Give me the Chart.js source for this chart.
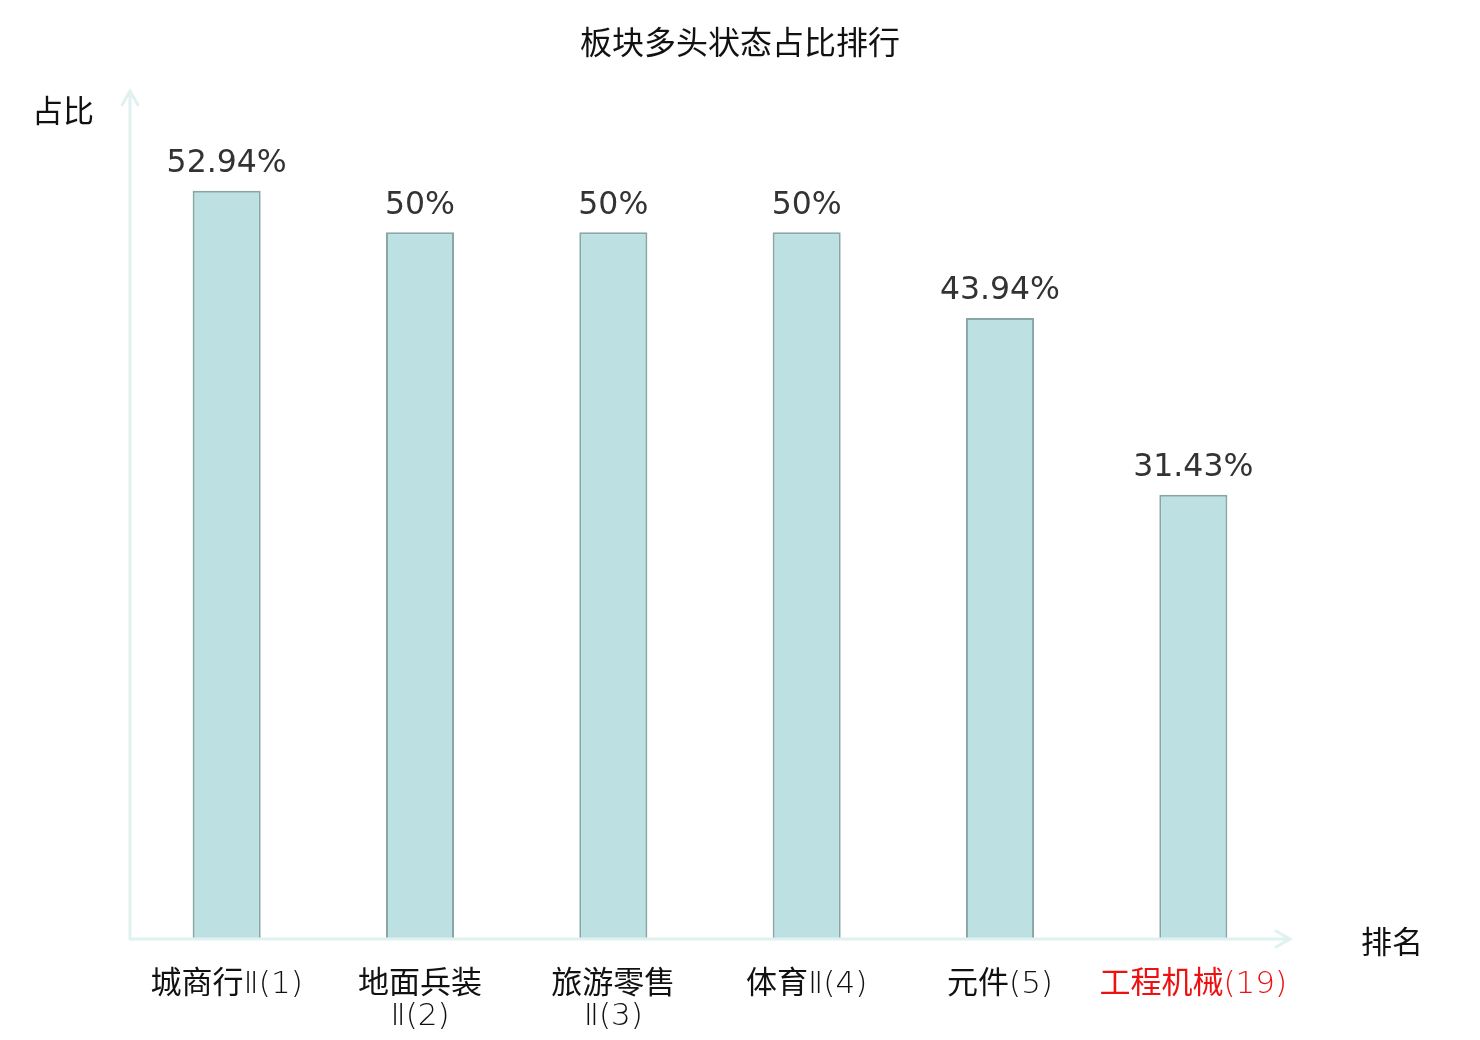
<!DOCTYPE html>
<html>
<head>
<meta charset="utf-8">
<script src="https://cdn.jsdelivr.net/npm/chart.js@4.4.0/dist/chart.umd.min.js"></script>
<style>
  html, body { margin: 0; padding: 0; background: #ffffff; }
  #wrap { width: 1480px; height: 1040px; }
</style>
</head>
<body>
<div id="wrap"><canvas id="chart" width="1480" height="1040"></canvas></div>
<script>
// data
const categories = [['城商行Ⅱ(1)'], ['地面兵装', 'Ⅱ(2)'], ['旅游零售', 'Ⅱ(3)'], ['体育Ⅱ(4)'], ['元件(5)'], ['工程机械(19)']];
const shares = [52.94, 50, 50, 50, 43.94, 31.43];
const shareLabels = ['52.94%', '50%', '50%', '50%', '43.94%', '31.43%'];
const highlightIndex = 5;
const titleText = '板块多头状态占比排行';
const yName = '占比';
const xName = '排名';

const cjkFont = '"Noto Sans CJK SC", "DejaVu Sans", sans-serif';
const latinFont = '200 31px "DejaVu Sans", sans-serif';
const axisColor = '#dff2ef';

// split a label into runs of CJK and non-CJK text so the digits
// can use a lighter font like the original
function splitRuns(text) {
    const runs = [];
    for (const ch of text) {
        const cjk = /[\u3400-\u9fff]/.test(ch);
        if (runs.length && runs[runs.length - 1].cjk === cjk) {
            runs[runs.length - 1].text += ch;
        } else {
            runs.push({ text: ch, cjk: cjk });
        }
    }
    return runs;
}

function drawMixed(ctx, text, cx, y) {
    const runs = splitRuns(text);
    let total = 0;
    runs.forEach(r => {
        ctx.font = r.cjk ? '31px ' + cjkFont : latinFont;
        r.w = ctx.measureText(r.text).width;
        total += r.w;
    });
    let x = cx - total / 2;
    ctx.textAlign = 'left';
    runs.forEach(r => {
        ctx.font = r.cjk ? '31px ' + cjkFont : latinFont;
        ctx.fillText(r.text, x, y);
        x += r.w;
    });
}

const decorPlugin = {
    id: 'decor',
    afterDatasetsDraw(chart) {
        const ctx = chart.ctx;
        const area = chart.chartArea;
        const xs = chart.scales.x;
        const meta = chart.getDatasetMeta(0);

        // axes with arrows
        ctx.save();
        ctx.strokeStyle = axisColor;
        ctx.lineWidth = 3;
        ctx.lineCap = 'round';
        ctx.beginPath();
        ctx.moveTo(area.left, area.bottom);
        ctx.lineTo(area.left, area.top);
        ctx.moveTo(area.left - 8, area.top + 14);
        ctx.lineTo(area.left, area.top);
        ctx.lineTo(area.left + 8, area.top + 14);
        ctx.moveTo(area.left, area.bottom);
        ctx.lineTo(area.right, area.bottom);
        ctx.moveTo(area.right - 14, area.bottom - 8);
        ctx.lineTo(area.right, area.bottom);
        ctx.lineTo(area.right - 14, area.bottom + 8);
        ctx.stroke();
        ctx.restore();

        // value labels on bars
        ctx.save();
        ctx.font = '31.5px "DejaVu Sans", sans-serif';
        ctx.fillStyle = '#333333';
        ctx.textAlign = 'center';
        ctx.textBaseline = 'bottom';
        meta.data.forEach((bar, i) => {
            ctx.fillText(shareLabels[i], bar.x, bar.y - 11);
        });
        ctx.restore();

        // category labels
        ctx.save();
        ctx.textBaseline = 'alphabetic';
        categories.forEach((lines, i) => {
            const x = xs.getPixelForValue(i);
            ctx.fillStyle = i === highlightIndex ? '#ee1111' : '#111111';
            lines.forEach((line, j) => {
                drawMixed(ctx, line, x, area.bottom + 54 + j * 32);
            });
        });
        ctx.restore();

        // title and axis names
        ctx.save();
        ctx.fillStyle = '#111111';
        ctx.textBaseline = 'middle';
        ctx.textAlign = 'center';
        ctx.font = '32px ' + cjkFont;
        ctx.fillText(titleText, chart.width / 2, 42);
        ctx.font = '31px ' + cjkFont;
        ctx.fillText(yName, 63, 110);
        ctx.fillText(xName, 1392, 941);
        ctx.restore();
    }
};

new Chart(document.getElementById('chart').getContext('2d'), {
    type: 'bar',
    data: {
        labels: categories,
        datasets: [{
            data: shares,
            backgroundColor: '#bde0e3',
            borderColor: '#88a6a6',
            borderWidth: 2,
            categoryPercentage: 1,
            barPercentage: 0.352
        }]
    },
    options: {
        responsive: false,
        animation: false,
        devicePixelRatio: 1,
        layout: { padding: { left: 130, right: 190, top: 91, bottom: 101 } },
        plugins: {
            legend: { display: false },
            title: { display: false },
            tooltip: { enabled: false }
        },
        scales: {
            x: { display: false },
            y: { display: false, min: 0, max: 60 }
        }
    },
    plugins: [decorPlugin]
});
</script>
</body>
</html>
